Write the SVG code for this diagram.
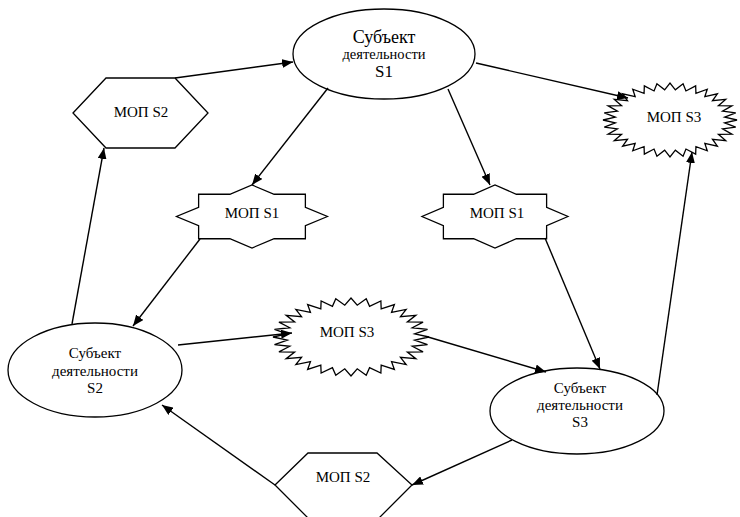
<svg xmlns="http://www.w3.org/2000/svg" xmlns:xlink="http://www.w3.org/1999/xlink" width="740" height="517" viewBox="0 0 740 517">
<style>
.sh{fill:#fff;stroke:#000;stroke-width:1.3;vector-effect:non-scaling-stroke}
.t{font-family:"Liberation Serif","Times New Roman",serif;fill:#000;text-anchor:middle}
.c line{stroke:#000;stroke-width:1.4;marker-end:url(#ah)}
</style>
<defs>
<marker id="ah" markerUnits="userSpaceOnUse" markerWidth="13" markerHeight="9" refX="11" refY="4.5" orient="auto">
<path d="M0,0 L11,4.5 L0,9 Z" fill="#000"/>
</marker>
<path id="star32" class="sh" d="M100,0 81.6,8 98.1,19.5 78.5,23.8 92.4,38.3 72.3,38.7 83.1,55.6 63.4,52 70.7,70.7 52,63.4 55.6,83.1 38.7,72.3 38.3,92.4 23.8,78.5 19.5,98.1 8,81.6 0,100 -8,81.6 -19.5,98.1 -23.8,78.5 -38.3,92.4 -38.7,72.3 -55.6,83.1 -52,63.4 -70.7,70.7 -63.4,52 -83.1,55.6 -72.3,38.7 -92.4,38.3 -78.5,23.8 -98.1,19.5 -81.6,8 -100,0 -81.6,-8 -98.1,-19.5 -78.5,-23.8 -92.4,-38.3 -72.3,-38.7 -83.1,-55.6 -63.4,-52 -70.7,-70.7 -52,-63.4 -55.6,-83.1 -38.7,-72.3 -38.3,-92.4 -23.8,-78.5 -19.5,-98.1 -8,-81.6 0,-100 8,-81.6 19.5,-98.1 23.8,-78.5 38.3,-92.4 38.7,-72.3 55.6,-83.1 52,-63.4 70.7,-70.7 63.4,-52 83.1,-55.6 72.3,-38.7 92.4,-38.3 78.5,-23.8 98.1,-19.5 81.6,-8 Z"/>
<path id="star8" class="sh" d="M100,0 70.7,29.3 70.7,70.7 29.3,70.7 0,100 -29.3,70.7 -70.7,70.7 -70.7,29.3 -100,0 -70.7,-29.3 -70.7,-70.7 -29.3,-70.7 0,-100 29.3,-70.7 70.7,-70.7 70.7,-29.3 Z"/>
</defs>
<rect width="740" height="517" fill="#fff"/>

<g id="s1">
<ellipse class="sh" cx="384" cy="54" rx="91" ry="45"/>
<text class="t" x="384" y="43" font-size="18">Субъект</text>
<text class="t" x="384" y="59" font-size="14.5">деятельности</text>
<text class="t" x="384" y="77" font-size="17">S1</text>
</g>

<g id="mop-s2-top">
<polygon class="sh" points="73,113 106,78 175,78 208,113 175,148 106,148"/>
<text class="t" x="141" y="117" font-size="15">МОП S2</text>
</g>

<g id="mop-s3-top">
<use xlink:href="#star32" transform="translate(670,120) scale(0.67,0.37)"/>
<text class="t" x="674" y="122" font-size="15">МОП S3</text>
</g>

<g id="mop-s1-left">
<use xlink:href="#star8" transform="translate(252,216.5) scale(0.755,0.315)"/>
<text class="t" x="252" y="218" font-size="15">МОП S1</text>
</g>

<g id="mop-s1-right">
<use xlink:href="#star8" transform="translate(495,216.5) scale(0.73,0.315)"/>
<text class="t" x="497" y="218" font-size="15">МОП S1</text>
</g>

<g id="s2">
<ellipse class="sh" cx="95" cy="370" rx="87" ry="47"/>
<text class="t" x="95" y="358" font-size="15">Субъект</text>
<text class="t" x="95" y="376" font-size="15">деятельности</text>
<text class="t" x="95" y="393" font-size="15">S2</text>
</g>

<g id="mop-s3-mid">
<use xlink:href="#star32" transform="translate(351,337) scale(0.78,0.39)"/>
<text class="t" x="347" y="337" font-size="15">МОП S3</text>
</g>

<g id="s3">
<ellipse class="sh" cx="577" cy="411" rx="87" ry="43"/>
<text class="t" x="580" y="393" font-size="15">Субъект</text>
<text class="t" x="580" y="410" font-size="15">деятельности</text>
<text class="t" x="580" y="427" font-size="15">S3</text>
</g>

<g id="mop-s2-bottom">
<polygon class="sh" points="275,485 308,453 377,453 412,485 378,519 309,519"/>
<text class="t" x="343" y="482" font-size="15">МОП S2</text>
</g>

<g id="connectors" class="c">
<line x1="175" y1="78" x2="293" y2="62"/>
<line x1="476" y1="63" x2="628" y2="98"/>
<line x1="328" y1="88" x2="252" y2="185"/>
<line x1="448" y1="89" x2="490" y2="185"/>
<line x1="200" y1="239" x2="133" y2="326"/>
<line x1="545" y1="238" x2="600" y2="369"/>
<line x1="72" y1="324" x2="104" y2="148"/>
<line x1="178" y1="345" x2="292" y2="333"/>
<line x1="428" y1="337" x2="546" y2="372"/>
<line x1="512" y1="440" x2="412" y2="485"/>
<line x1="275" y1="485" x2="162" y2="405"/>
<line x1="657" y1="395" x2="692" y2="152"/>
</g>
</svg>
